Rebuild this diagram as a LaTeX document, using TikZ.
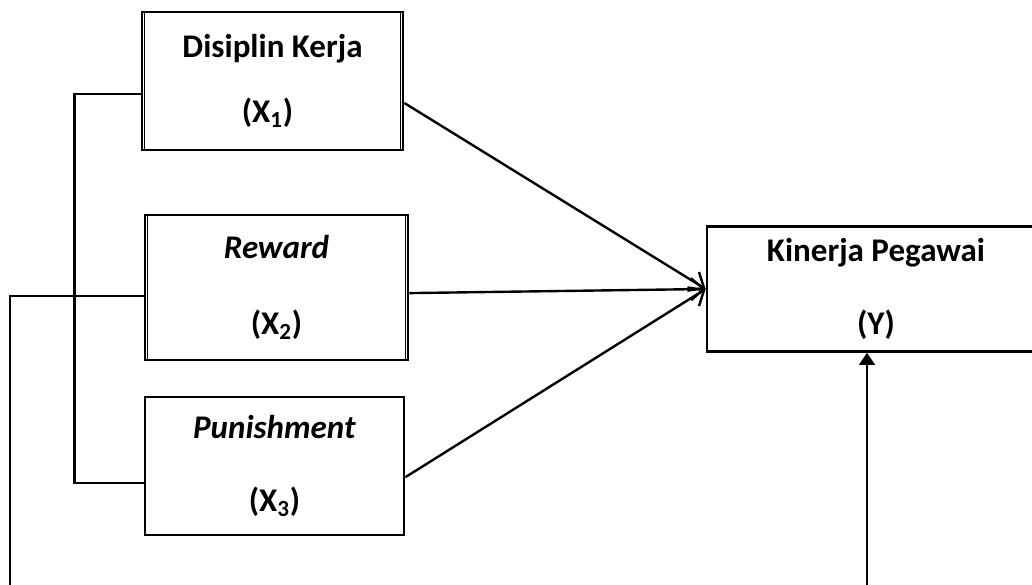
\documentclass[tikz,border=0pt]{standalone}
\usepackage{fontspec}
\setmainfont{Carlito}
\usetikzlibrary{arrows.meta,calc}

\tikzset{
  box/.style={draw, line width=1.9pt, align=center, inner sep=0pt,
    font=\fontsize{23.5pt}{46pt}\selectfont\bfseries},
  conn/.style={line width=1.7pt},
  into/.style={conn, -{Straight Barb[length=0.32cm,width=0.55cm,line width=1.7pt]}},
  inner/.style={line width=0.8pt}
}

\begin{document}
\begin{tikzpicture}[x=0.025cm,y=-0.025cm]
	\useasboundingbox (0,0) rectangle (1032,585);
	% boxes
	\node[box, minimum width=6.525cm, minimum height=3.45cm] (dk) at (272.5,81)
		{Disiplin Kerja\\(X\textsubscript{1})\hspace*{0.25cm}};
	\node[box, minimum width=6.575cm, minimum height=3.625cm] (rw) at (276.5,287.5)
		{\textit{Reward}\\[7.8pt](X\textsubscript{2})};
	\node[box, minimum width=6.475cm, minimum height=3.45cm] (pn) at (274.5,466)
		{\textit{Punishment}\\[5.7pt](X\textsubscript{3})};
	\node[box, minimum width=8.45cm, minimum height=3.125cm] (kp) at (876,289)
		{Kinerja Pegawai\\[5.7pt](Y)};
	
	% inner lines of the double sides
	\draw[inner] ([xshift=0.1cm]dk.north west) -- ([xshift=0.1cm]dk.south west);
	\draw[inner] ([xshift=-0.1cm]dk.north east) -- ([xshift=-0.1cm]dk.south east);
	\draw[inner] ([xshift=0.1cm]rw.north west) -- ([xshift=0.1cm]rw.south west);
	\draw[inner] ([xshift=-0.1cm]rw.north east) -- ([xshift=-0.1cm]rw.south east);
	
	% free ends at the bottom edge
	\coordinate (lb) at (10,585);
	\coordinate (yb) at (867,585);
	
	% arrows to Y
	\draw[into] ([yshift=-0.55cm]dk.east) -- (kp.west);
	\draw[into] ([yshift=-0.14cm]rw.east) -- (kp.west);
	\draw[into] ([yshift=-0.28cm]pn.east) -- (kp.west);
	
	% links on the left
	\draw[conn] ([yshift=-0.325cm]dk.west) -- ++(-66,0) |- ([yshift=-0.425cm]pn.west);
	\draw[conn] ([yshift=-0.21cm]rw.west) -| (lb);
	\draw[line width=1pt, -{Triangle[length=0.3cm,width=0.4cm]}] (yb) -- (yb |- kp.south);
\end{tikzpicture}
\end{document}
